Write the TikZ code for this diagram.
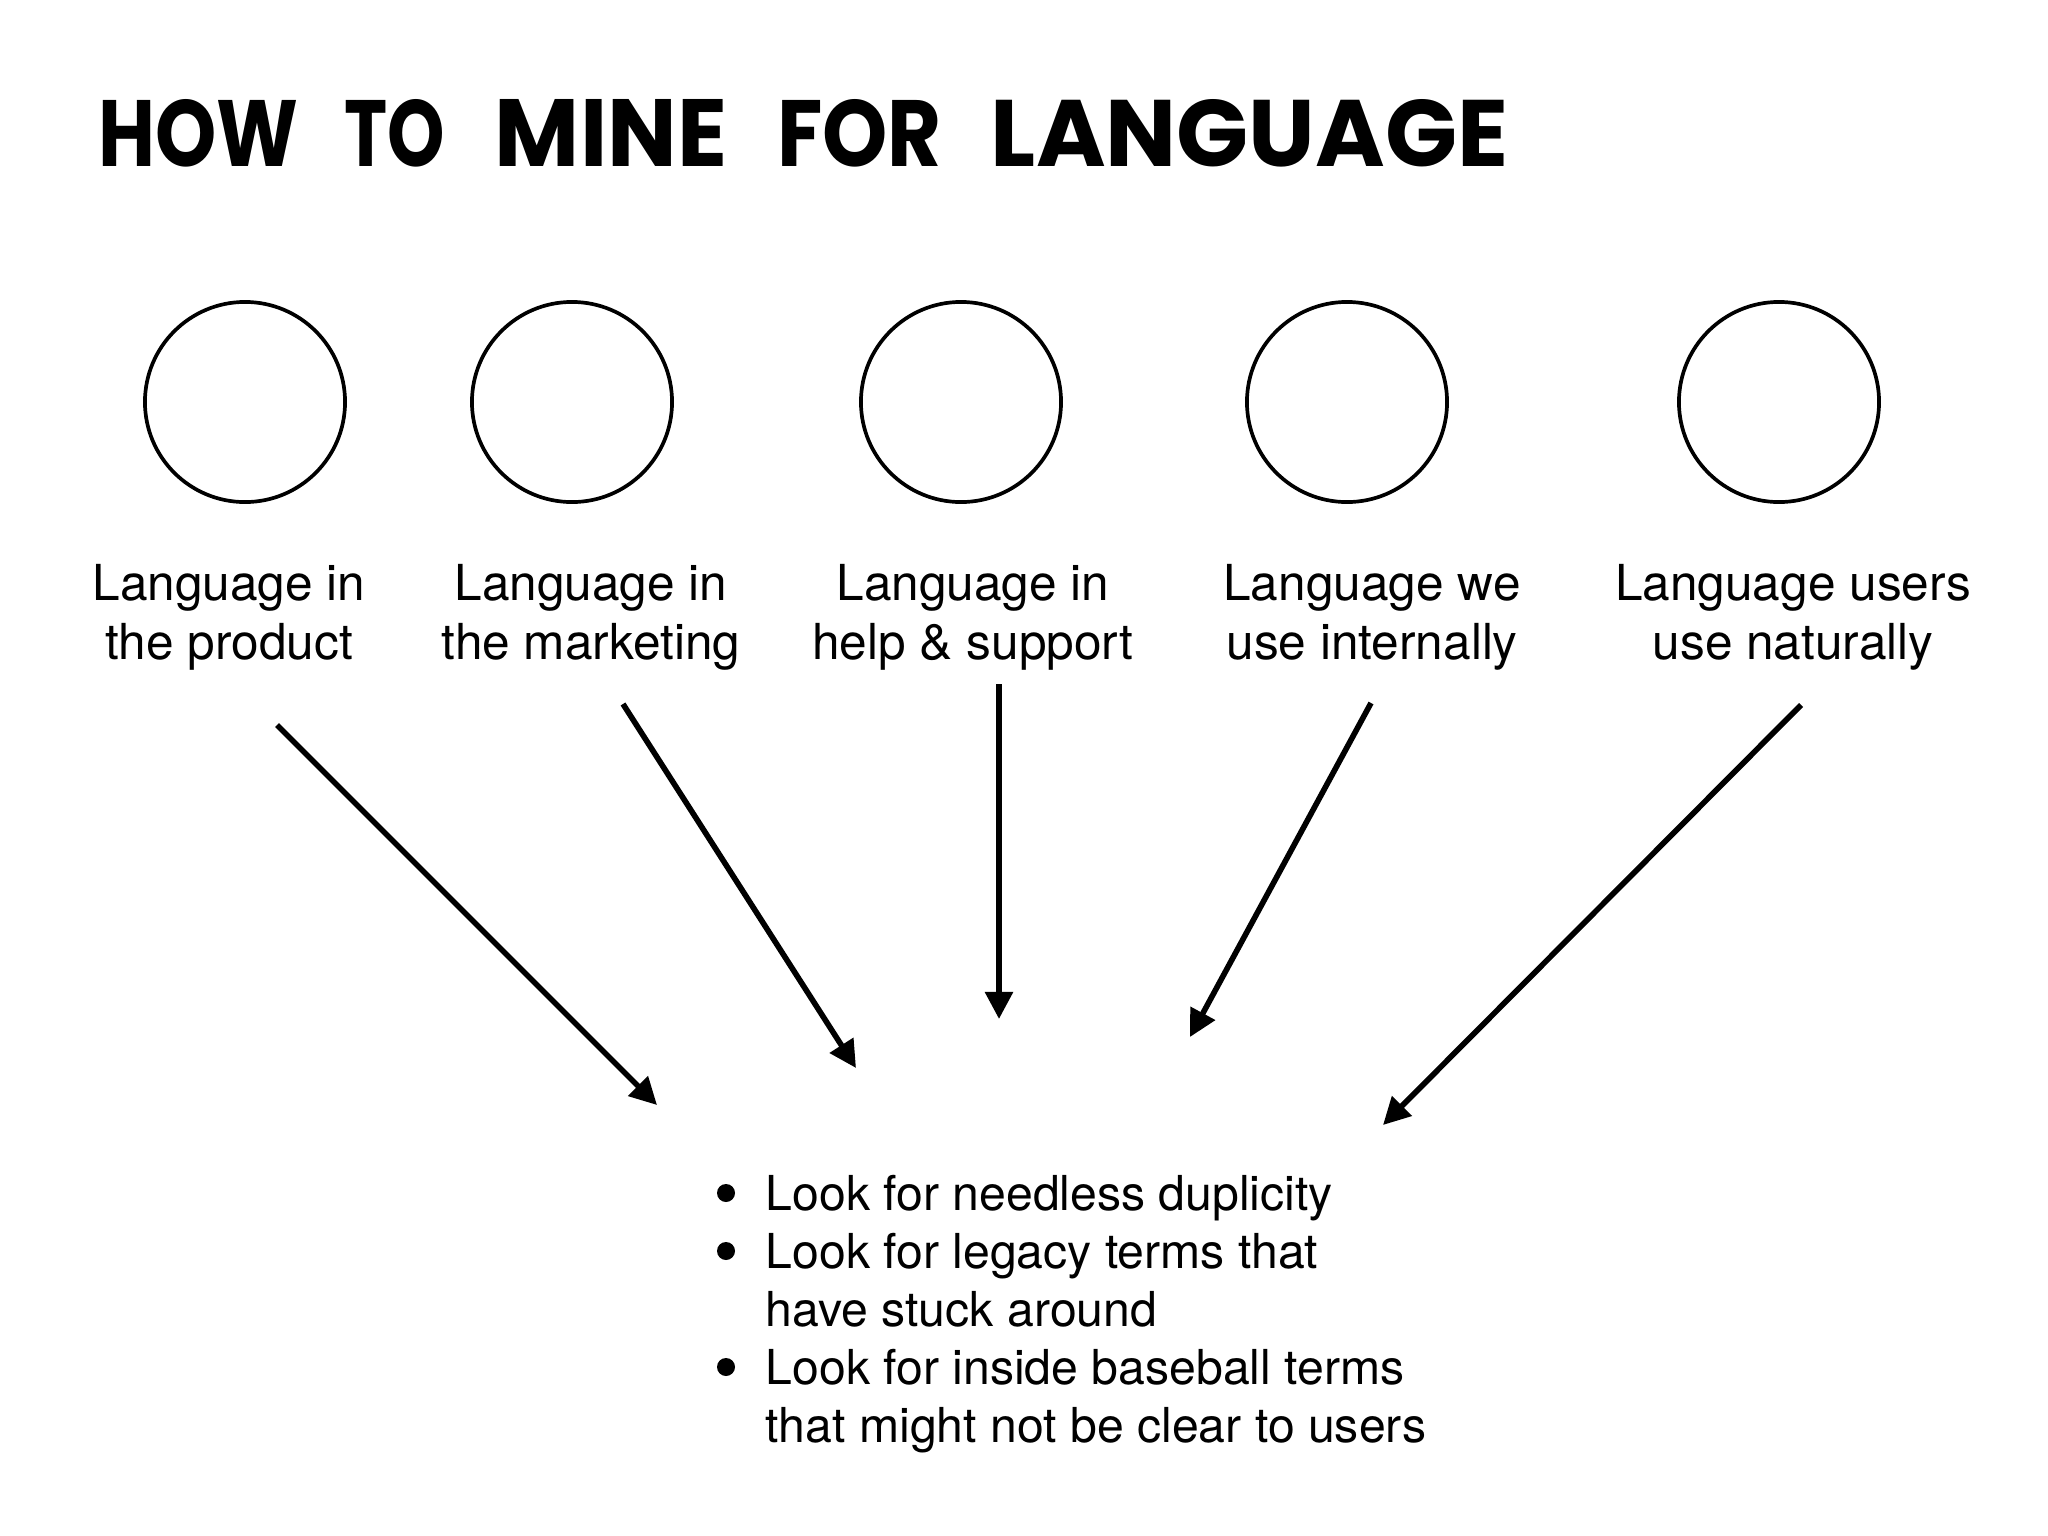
\documentclass[tikz,border=0pt]{standalone}
\usepackage{fontspec}
\setmainfont{TeX Gyre Heros}
\newfontfamily\titlefont{Poppins}
\usetikzlibrary{arrows.meta}
\tikzset{
  circ/.style={draw, circle, line width=1.05pt, minimum size=2cm, inner sep=0pt},
  lab/.style={align=center, inner sep=0pt, font=\fontsize{14.1}{16.8}\selectfont},
  arr/.style={line width=1.6pt, -{Triangle[length=0.27cm,width=0.27cm]}},
  dot/.style={fill, circle, minimum size=0.18cm, inner sep=0pt},
}
\newcommand{\tw}[2]{\resizebox{#1}{0.67cm}{\titlefont\bfseries #2}}
\begin{document}
\begin{tikzpicture}[x=0.01cm, y=-0.01cm]
\useasboundingbox (0,0) rectangle (2048,1536);
\node[anchor=base west, inner sep=0pt] (title) at (98,166)
  {\tw{2.00cm}{HOW}\hspace{0.455cm}\tw{1.005cm}{TO}\hspace{0.50cm}\tw{2.32cm}{MINE}\hspace{0.50cm}\tw{1.646cm}{FOR}\hspace{0.49cm}\tw{5.17cm}{LANGUAGE}};
\node[circ] (c1) at (245,402) {};
\node[circ] (c2) at (572,402) {};
\node[circ] (c3) at (961,402) {};
\node[circ] (c4) at (1347,402) {};
\node[circ] (c5) at (1779,402) {};
\node[lab] (l1) at (229,617) {Language in\\the product};
\node[lab] (l2) at (591,617) {Language in\\the marketing};
\node[lab] (l3) at (973,617) {Language in\\help \& support};
\node[lab] (l4) at (1372,617) {Language we\\use internally};
\node[lab] (l5) at (1793,617) {Language users\\use naturally};
\node[anchor=base west, inner sep=0pt, font=\fontsize{13.7}{16.5}\selectfont] (tips) at (765,1210)
  {\begin{tabular}[t]{@{}l@{}}
   Look for needless duplicity\\
   Look for legacy terms that\\
   have stuck around\\
   Look for inside baseball terms\\
   that might not be clear to users
   \end{tabular}};
\node[dot] (b1) at (726,1193) {};
\node[dot] (b2) at (726,1251) {};
\node[dot] (b3) at (726,1367) {};
\coordinate (s1) at (277,725);  \coordinate (e1) at (657,1105);
\coordinate (s2) at (623,704);  \coordinate (e2) at (856,1068);
\coordinate (s3) at (999,684);  \coordinate (e3) at (999,1019);
\coordinate (s4) at (1371,703); \coordinate (e4) at (1190,1037);
\coordinate (s5) at (1801,705); \coordinate (e5) at (1383,1125);
\draw[arr] (s1) -- (e1);
\draw[arr] (s2) -- (e2);
\draw[arr] (s3) -- (e3);
\draw[arr] (s4) -- (e4);
\draw[arr] (s5) -- (e5);
\end{tikzpicture}
\end{document}
